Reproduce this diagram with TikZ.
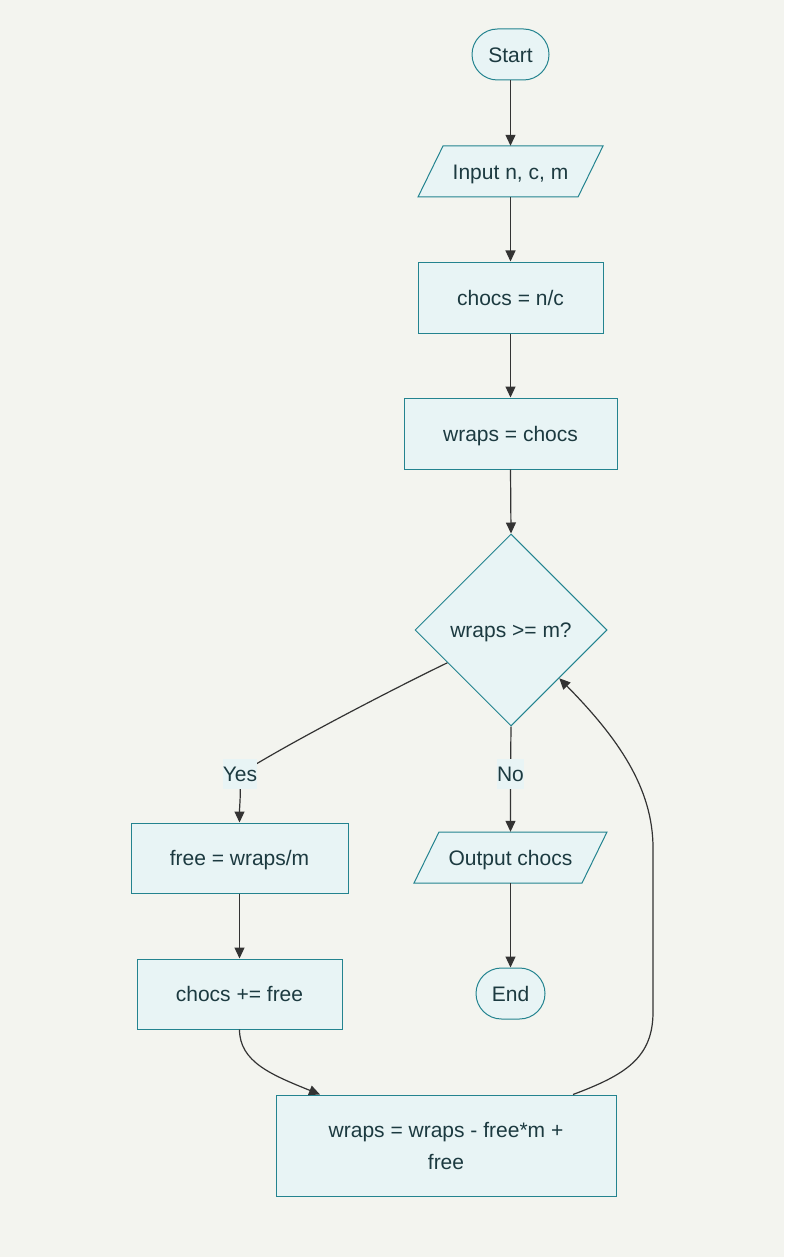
\documentclass[tikz,border=0pt]{standalone}
\usepackage{fontspec}
\setmainfont{Liberation Sans}
\usetikzlibrary{shapes.geometric,arrows.meta,calc}
\definecolor{bgc}{HTML}{F3F4EF}
\definecolor{nodefill}{HTML}{E8F4F5}
\definecolor{nodedraw}{HTML}{23838F}
\definecolor{txt}{HTML}{1C3A40}
\definecolor{edgec}{HTML}{333333}
\tikzset{
  base/.style={font=\fontsize{21}{32}\selectfont, text=txt, inner sep=0pt},
  oneline/.style={text height=16.5pt, text depth=1pt},
  box/.style={base, rectangle, draw=nodedraw, fill=nodefill, line width=1pt},
  term/.style={box, oneline, rounded corners=25.5pt, minimum height=51pt},
  dec/.style={box, oneline, diamond, minimum width=192pt, minimum height=192pt},
  iotext/.style={base, oneline, minimum height=51pt},
  iopoly/.style={draw=nodedraw, fill=nodefill, line width=1pt},
  edge/.style={draw=edgec, line width=1.2pt, -{Triangle[length=11pt,width=10pt]}},
  lab/.style={base, oneline, fill=nodefill, minimum width=34pt, minimum height=30pt}
}
\begin{document}
\begin{tikzpicture}[x=1pt,y=-1pt]
\useasboundingbox (0,0) rectangle (784,1257);
\fill[bgc] (0,0) rectangle (784,1257);

% nodes
\node[term, minimum width=77pt] (start) at (510.5,54.5) {Start};
\draw[iopoly] (418,197) -- (443,146) -- (603,146) -- (578,197) -- cycle;
\node[iotext, minimum width=135pt] (inp) at (510.5,171.5) {Input n, c, m};
\node[box, oneline, minimum width=185pt, minimum height=71pt] (chocs) at (510.5,297.5) {chocs = n/c};
\node[box, oneline, minimum width=213pt, minimum height=71pt] (wraps) at (510.5,433.5) {wraps = chocs};
\node[dec] (dia) at (511,630) {wraps >= m?};
\draw[iopoly] (414,883) -- (439,832) -- (607,832) -- (582,883) -- cycle;
\node[iotext, minimum width=143pt] (out) at (510.5,857.5) {Output chocs};
\node[term, minimum width=69pt] (end) at (510.5,993.5) {End};
\node[box, oneline, minimum width=217pt, minimum height=70pt] (free) at (239.5,858) {free = wraps/m};
\node[box, oneline, minimum width=205pt, minimum height=70pt] (cplus) at (239.5,994) {chocs += free};
\node[box, minimum width=340pt, minimum height=101pt, align=center] (big) at (446,1145.5) {wraps = wraps - free*m +\\free};

% label anchors
\coordinate (yespt) at (240,774);
\coordinate (nopt) at (510.5,774);

% edges
\draw[edge] (start.south) -- (inp.south |- inp.north);
\draw[edge] (inp.south) -- (chocs.north);
\draw[edge] (chocs.south) -- (wraps.north);
\draw[edge] (wraps.south) -- (dia.north);
\draw[edge] ($(dia.west)!0.34!(dia.south)$) .. controls (395,688) and (285,745) .. (yespt)
  .. controls (241,796) and (239.5,805) .. (free.north);
\draw[edge] (dia.south) -- (nopt) -- (out.north);
\draw[edge] (out.south) -- (end.north);
\draw[edge] (free.south) -- (cplus.north);
\draw[edge] (cplus.south) .. controls (239.5,1062) and (272,1075) .. ([xshift=-126pt]big.north);
\draw[edge] ([xshift=127pt]big.north) .. controls (625,1075) and (653,1058) .. (653,1012)
  -- (653,848) .. controls (653,788) and (618,738) .. (dia.south east);

% labels
\node[lab] (yes) at (yespt) {Yes};
\node[lab, minimum width=26pt] (no) at (nopt) {No};
\end{tikzpicture}
\end{document}
